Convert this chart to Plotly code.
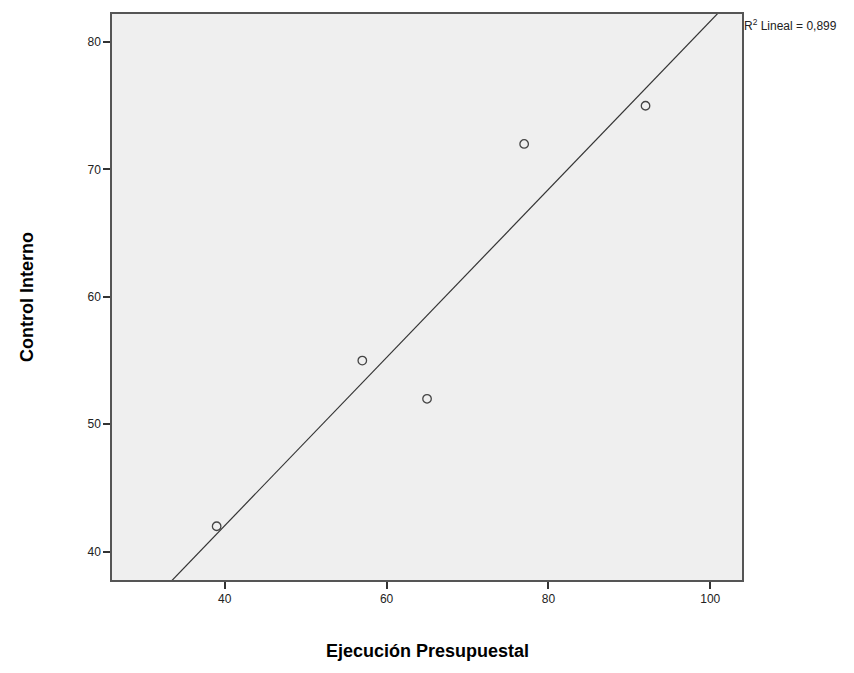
import numpy as np
import plotly.graph_objects as go

ejecucion = [39, 57, 65, 77, 92]
control = [42, 55, 52, 72, 75]
x_ticks = [40, 60, 80, 100]
y_ticks = [40, 50, 60, 70, 80]
x_range = [26.07, 103.92]
y_range = [37.78, 82.2]

slope, intercept = np.polyfit(ejecucion, control, 1)
r2 = np.corrcoef(ejecucion, control)[0, 1] ** 2
lx = np.array(x_range)
ly = slope * lx + intercept

fig = go.Figure()
fig.add_trace(go.Scatter(x=lx, y=ly, mode="lines",
                         line=dict(color="#333333", width=1.2),
                         hoverinfo="skip", showlegend=False))
fig.add_trace(go.Scatter(x=ejecucion, y=control, mode="markers",
                         marker=dict(symbol="circle-open", size=8.5,
                                     color="#444444", line=dict(width=1.3)),
                         showlegend=False))

axis_common = dict(showgrid=False, zeroline=False, showline=True, mirror=True,
                   linecolor="#555555", linewidth=1.5, ticks="outside",
                   ticklen=7, tickwidth=1.5, tickcolor="#333333",
                   tickfont=dict(family="Liberation Sans, Arial", size=12, color="#222222"))

fig.update_xaxes(range=x_range, tickvals=x_ticks, **axis_common)
fig.update_yaxes(range=y_range, tickvals=y_ticks, **axis_common)

fig.update_layout(
    width=854, height=673,
    margin=dict(l=112, r=112, t=12, b=93),
    plot_bgcolor="#efefef", paper_bgcolor="white",
    annotations=[
        dict(text="R<sup>2</sup> Lineal = 0,899", xref="paper", yref="paper",
             x=1.0, y=1.0, xanchor="left", yanchor="top", xshift=0, yshift=-1,
             showarrow=False,
             font=dict(family="Liberation Sans, Arial", size=12, color="#222222")),
        dict(text="<b>Ejecución Presupuestal</b>", xref="paper", yref="paper",
             x=0.5, y=0, yshift=-71, xanchor="center", yanchor="middle",
             showarrow=False,
             font=dict(family="Liberation Sans, Arial", size=18, color="black")),
        dict(text="<b>Control Interno</b>", xref="paper", yref="paper",
             x=0, y=0.5, xshift=-85, xanchor="center", yanchor="middle",
             textangle=-90, showarrow=False,
             font=dict(family="Liberation Sans, Arial", size=18, color="black")),
    ],
)

fig.write_html("out.html")
